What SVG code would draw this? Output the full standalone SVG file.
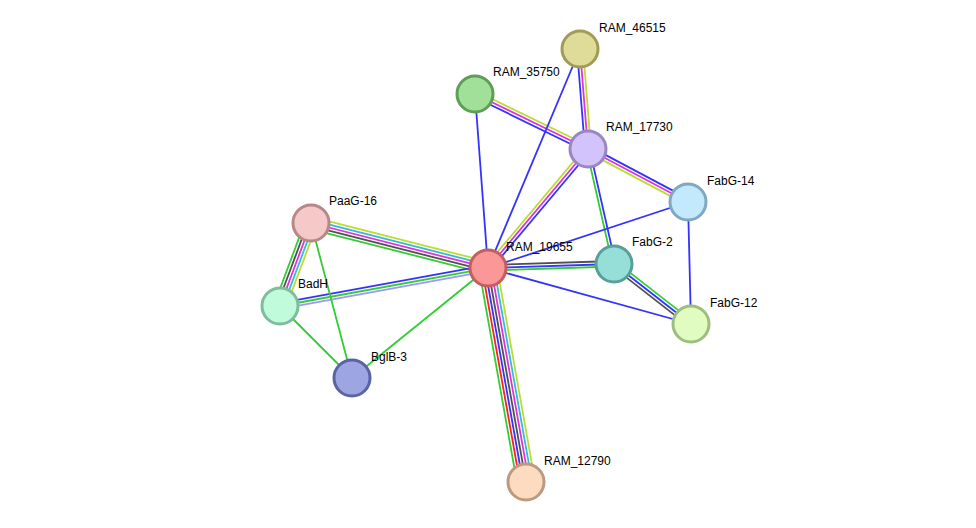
<svg xmlns="http://www.w3.org/2000/svg" width="976" height="528" viewBox="0 0 976 528">
<style>
.e line{stroke-width:1.8;fill:none}
.g{stroke:#33cc33}.r{stroke:#ff2020}.b{stroke:#3333ff}.k{stroke:#505050}.m{stroke:#dd33dd}.c{stroke:#33bbdd}.y{stroke:#bbdd33}.l{stroke:#9999ff}
.n circle{stroke-width:3}
text{font-family:"Liberation Sans",Arial,sans-serif;font-size:12px;fill:#000}
</style>
<rect width="976" height="528" fill="#fff"/>
<g id="connectors" class="e">
<!-- 19655-12790 -->
<g transform="translate(488,268) rotate(79.93)">
<line class="g" x1="0" y1="9" x2="217.3" y2="9"/>
<line class="r" x1="0" y1="6" x2="217.3" y2="6"/>
<line class="b" x1="0" y1="3" x2="217.3" y2="3"/>
<line class="k" x1="0" y1="0" x2="217.3" y2="0"/>
<line class="m" x1="0" y1="-3" x2="217.3" y2="-3"/>
<line class="c" x1="0" y1="-6" x2="217.3" y2="-6"/>
<line class="y" x1="0" y1="-9" x2="217.3" y2="-9"/>
</g>
<!-- PaaG-16 - 19655 -->
<g transform="translate(311,223) rotate(14.26)">
<line class="y" x1="0" y1="-6" x2="182.6" y2="-6"/>
<line class="c" x1="0" y1="-3" x2="182.6" y2="-3"/>
<line class="m" x1="0" y1="0" x2="182.6" y2="0"/>
<line class="k" x1="0" y1="3" x2="182.6" y2="3"/>
<line class="g" x1="0" y1="6" x2="182.6" y2="6"/>
</g>
<!-- BadH - 19655 -->
<g transform="translate(280,306) rotate(-10.35)">
<line class="b" x1="0" y1="-3" x2="211.4" y2="-3"/>
<line class="g" x1="0" y1="0" x2="211.4" y2="0"/>
<line class="l" x1="0" y1="3" x2="211.4" y2="3"/>
</g>
<!-- 19655 - FabG-2 -->
<g transform="translate(488,268) rotate(-1.82)">
<line class="k" x1="0" y1="-3" x2="126.1" y2="-3"/>
<line class="b" x1="0" y1="0" x2="126.1" y2="0"/>
<line class="g" x1="0" y1="2.5" x2="126.1" y2="2.5"/>
</g>
<!-- 19655 - 17730 -->
<g transform="translate(488,268) rotate(-49.96)">
<line class="y" x1="0" y1="-3" x2="155.4" y2="-3"/>
<line class="m" x1="0" y1="0" x2="155.4" y2="0"/>
<line class="b" x1="0" y1="3" x2="155.4" y2="3"/>
</g>
<!-- 35750 - 17730 -->
<g transform="translate(475,94) rotate(25.95)">
<line class="y" x1="0" y1="-3" x2="125.7" y2="-3"/>
<line class="m" x1="0" y1="0" x2="125.7" y2="0"/>
<line class="b" x1="0" y1="3" x2="125.7" y2="3"/>
</g>
<!-- 46515 - 17730 -->
<g transform="translate(580,49) rotate(85.43)">
<line class="b" x1="0" y1="3" x2="100.3" y2="3"/>
<line class="m" x1="0" y1="0" x2="100.3" y2="0"/>
<line class="y" x1="0" y1="-3" x2="100.3" y2="-3"/>
</g>
<!-- 17730 - FabG-14 -->
<g transform="translate(588,149) rotate(27.92)">
<line class="b" x1="0" y1="-3" x2="113.2" y2="-3"/>
<line class="m" x1="0" y1="0" x2="113.2" y2="0"/>
<line class="y" x1="0" y1="3" x2="113.2" y2="3"/>
</g>
<!-- 17730 - FabG-2 -->
<g transform="translate(588,149) rotate(77.26)">
<line class="g" x1="0" y1="1.5" x2="117.9" y2="1.5"/>
<line class="b" x1="0" y1="-1.5" x2="117.9" y2="-1.5"/>
</g>
<!-- FabG-2 - FabG-12 -->
<g transform="translate(614,264) rotate(37.93)">
<line class="g" x1="0" y1="-3" x2="97.6" y2="-3"/>
<line class="b" x1="0" y1="0" x2="97.6" y2="0"/>
<line class="k" x1="0" y1="3" x2="97.6" y2="3"/>
</g>
<!-- PaaG-16 - BadH -->
<g transform="translate(311,223) rotate(110.48)">
<line class="g" x1="0" y1="6" x2="88.6" y2="6"/>
<line class="k" x1="0" y1="3" x2="88.6" y2="3"/>
<line class="m" x1="0" y1="0" x2="88.6" y2="0"/>
<line class="c" x1="0" y1="-3" x2="88.6" y2="-3"/>
<line class="y" x1="0" y1="-6" x2="88.6" y2="-6"/>
</g>
<!-- singles -->
<line class="g" x1="352" y1="378" x2="488" y2="268"/>
<line class="b" x1="488" y1="268" x2="691" y2="324"/>
<line class="b" x1="488" y1="268" x2="688" y2="202"/>
<line class="b" x1="488" y1="268" x2="580" y2="49"/>
<line class="b" x1="488" y1="268" x2="475" y2="94"/>
<line class="b" x1="688" y1="202" x2="691" y2="324"/>
<line class="g" x1="311" y1="223" x2="352" y2="378"/>
<line class="g" x1="280" y1="306" x2="352" y2="378"/>
</g>
<g id="RAM_46515" class="n"><circle cx="580" cy="49" r="18" fill="#dfdb99" stroke="#a09c55"/><text x="599" y="32">RAM_46515</text></g>
<g id="RAM_35750" class="n"><circle cx="475" cy="94" r="18" fill="#a0e098" stroke="#5e9e57"/><text x="493" y="76">RAM_35750</text></g>
<g id="RAM_17730" class="n"><circle cx="588" cy="149" r="18" fill="#d3c3fb" stroke="#9a86c2"/><text x="606" y="131">RAM_17730</text></g>
<g id="FabG-14" class="n"><circle cx="688" cy="202" r="18" fill="#c2e9fc" stroke="#7fa9c2"/><text x="707" y="185">FabG-14</text></g>
<g id="PaaG-16" class="n"><circle cx="311" cy="223" r="18" fill="#f6c9c9" stroke="#b88888"/><text x="329" y="205">PaaG-16</text></g>
<g id="RAM_19655" class="n"><circle cx="488" cy="268" r="18" fill="#fc9797" stroke="#c25e5e"/><text x="506" y="251">RAM_19655</text></g>
<g id="FabG-2" class="n"><circle cx="614" cy="264" r="18" fill="#96dfd8" stroke="#57a099"/><text x="632" y="246">FabG-2</text></g>
<g id="BadH" class="n"><circle cx="280" cy="306" r="18" fill="#c0fcdc" stroke="#7ebd9b"/><text x="298" y="288">BadH</text></g>
<g id="FabG-12" class="n"><circle cx="691" cy="324" r="18" fill="#e0fcc0" stroke="#a0bd80"/><text x="710" y="307">FabG-12</text></g>
<g id="BglB-3" class="n"><circle cx="352" cy="378" r="18" fill="#9ea6e2" stroke="#5a63a3"/><text x="371" y="361">BglB-3</text></g>
<g id="RAM_12790" class="n"><circle cx="526" cy="482" r="18" fill="#fddbc0" stroke="#bc9a80"/><text x="544" y="465">RAM_12790</text></g>
</svg>
